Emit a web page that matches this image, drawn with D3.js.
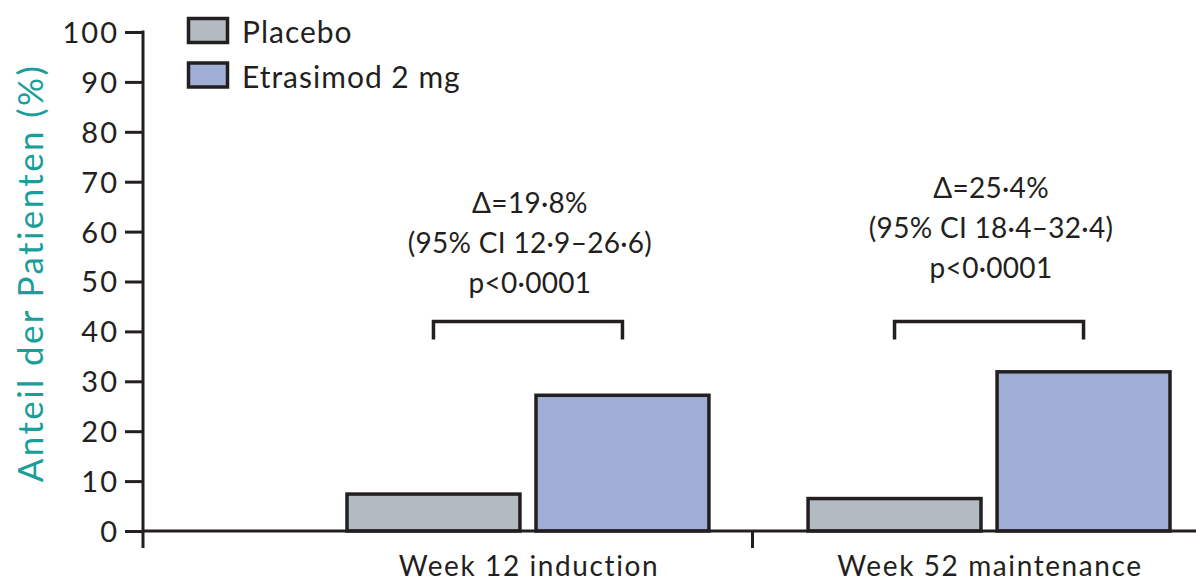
<!DOCTYPE html>
<html><head><meta charset="utf-8">
<script src="https://cdn.jsdelivr.net/npm/d3@7"></script>
<style>body{margin:0;background:#fff}svg{display:block}</style>
</head><body>
<svg id="c" width="1196" height="583"></svg>
<script>
const categories = ["Week 12 induction", "Week 52 maintenance"];
const seriesNames = ["Placebo", "Etrasimod 2 mg"];
const placebo = [7.4, 6.5];
const etrasimod = [27.2, 31.9];
const yTicks = [0,10,20,30,40,50,60,70,80,90,100];
const annotations = [
  ["Δ=19·8%", "(95% CI 12·9–26·6)", "p<0·0001"],
  ["Δ=25·4%", "(95% CI 18·4–32·4)", "p<0·0001"]
];
const annotationOffset = [0, -15];
const colors = ["#b3bbc2", "#a0aed6"];
const ink = "#231f20";
const font = "Lato, 'Open Sans', sans-serif";

const svg = d3.select("#c");
const W = 1196;
const y = d3.scaleLinear().domain([0,100]).range([531,32]);
const x0 = d3.scaleBand().domain(categories).range([347,1170]).paddingInner(0.215).paddingOuter(0);
const x1 = d3.scaleBand().domain(seriesNames).range([0, x0.bandwidth()]).paddingInner(0.085);
const data = categories.map((c,i)=>({cat:c, vals:[placebo[i], etrasimod[i]]}));

// y axis
const yAxis = svg.append("g").attr("transform","translate(143,0)")
  .call(d3.axisLeft(y).tickValues(yTicks).tickSize(18).tickPadding(6));
yAxis.select(".domain").remove();
yAxis.selectAll(".tick line").attr("stroke", ink).attr("stroke-width",3);
yAxis.selectAll(".tick text").attr("fill", ink).style("font-family", font).style("font-size","29px")
  .style("letter-spacing","2px").attr("dy","0.36em");
svg.append("line").attr("x1",143).attr("x2",143).attr("y1",y(100)-1.5).attr("y2",y(0)+17)
  .attr("stroke",ink).attr("stroke-width",3);

// bars
const g = svg.append("g");
data.forEach(d=>{
  d.vals.forEach((v,j)=>{
    const bx = x0(d.cat)+x1(seriesNames[j]);
    g.append("rect").attr("x",bx).attr("y",y(v)).attr("width",x1.bandwidth()).attr("height",y(0)-y(v))
      .attr("fill",colors[j]).attr("stroke",ink).attr("stroke-width",3.5);
  });
});

// x axis baseline
svg.append("line").attr("x1",143).attr("x2",W).attr("y1",y(0)).attr("y2",y(0)).attr("stroke",ink).attr("stroke-width",3);
const sepX = x0(categories[1]) - x0.step()*x0.paddingInner()/2 - 6;
svg.append("line").attr("x1",sepX).attr("x2",sepX).attr("y1",y(0)).attr("y2",y(0)+17).attr("stroke",ink).attr("stroke-width",3);
// category labels
svg.selectAll(".cat").data(categories).join("text")
  .attr("x",d=>x0(d)+x0.bandwidth()/2+1).attr("y",576).attr("text-anchor","middle")
  .attr("fill",ink).style("font-family",font).style("font-size","28px").style("letter-spacing","1.6px").text(d=>d);

// brackets + annotations
data.forEach((d,i)=>{
  const xa = x0(d.cat)+x1(seriesNames[0])+x1.bandwidth()/2;
  const xb = x0(d.cat)+x1(seriesNames[1])+x1.bandwidth()/2;
  const yb = y(42);
  svg.append("path").attr("d",`M${xa},${yb+18}V${yb}H${xb}V${yb+18}`)
    .attr("fill","none").attr("stroke",ink).attr("stroke-width",3.5);
  const cx = x0(d.cat)+x0.bandwidth()/2;
  annotations[i].forEach((t,k)=>{
    svg.append("text").attr("x",cx+2).attr("y",213+annotationOffset[i]+k*40).attr("text-anchor","middle")
      .attr("fill",ink).style("font-family",font).style("font-size","28px").style("letter-spacing","0.3px").text(t);
  });
});

// legend
seriesNames.forEach((s,i)=>{
  const ly = 17 + i*44.5;
  svg.append("rect").attr("x",188.5).attr("y",ly+1.5).attr("width",39).attr("height",24)
    .attr("fill",colors[i]).attr("stroke",ink).attr("stroke-width",3.5);
  svg.append("text").attr("x",242).attr("y",ly+26).attr("fill",ink)
    .style("font-family",font).style("font-size","30px").style("letter-spacing","1px").text(s);
});

// y title
svg.append("text").attr("transform","translate(43,273) rotate(-90)").attr("text-anchor","middle")
  .attr("fill","#1a9e9a").style("font-family",font).style("font-size","35px").style("letter-spacing","2.4px")
  .text("Anteil der Patienten (%)");
</script>
</body></html>
